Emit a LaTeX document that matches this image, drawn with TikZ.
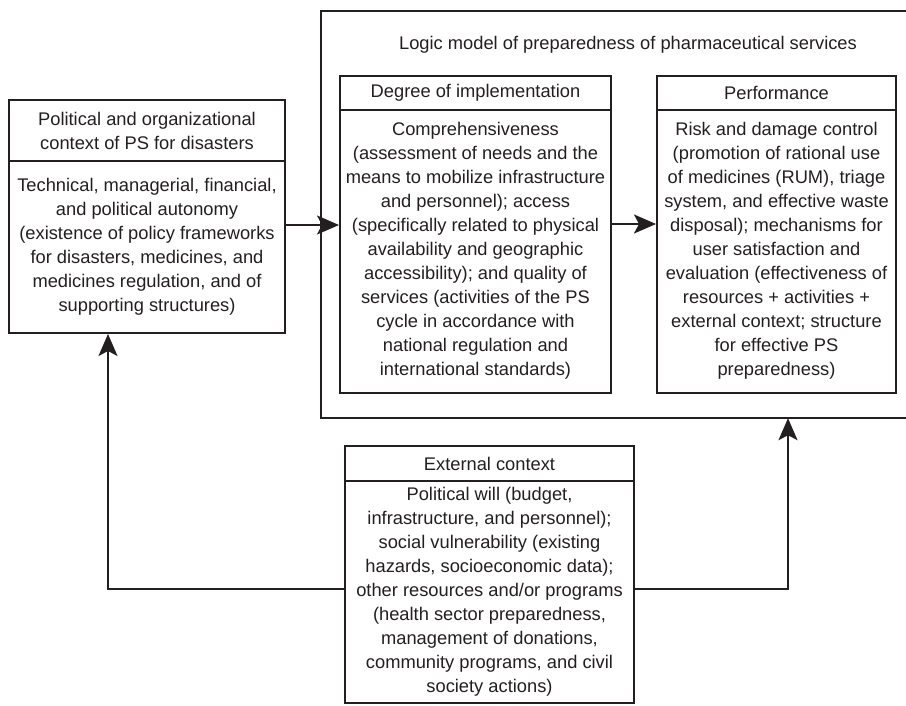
\documentclass[tikz,border=0pt]{standalone}
\usepackage{fontspec}
\setmainfont{Liberation Sans}
\usetikzlibrary{arrows.meta}
\definecolor{ink}{RGB}{35,31,32}
\tikzset{
  box/.style={draw=ink, line width=2pt, inner sep=0pt, align=center, text=ink,
    font=\fontsize{18.3}{24}\selectfont},
  arr/.style={draw=ink, line width=2pt,
    -{Stealth[length=22pt,width=19pt,inset=5pt]}},
  frame/.style={draw=ink, line width=2pt}
}
\begin{document}
\begin{tikzpicture}[x=1pt,y=-1pt]
\useasboundingbox (0,0) rectangle (906,705);
% outer frame (right side cut off by the page edge)
\node[inner sep=0pt, minimum width=585pt, minimum height=407pt] (outer) at (613.5,214.5) {};
\draw[frame] (outer.north east) -- (outer.north west) -- (outer.south west) -- (outer.south east);
\node[box, draw=none] (title) at (628,45) {Logic model of preparedness of pharmaceutical services};
% left box
\node[box, minimum width=276pt, minimum height=61pt] (lefthead) at (147,130.5)
  {Political and organizational\\context of PS for disasters};
\node[box, minimum width=276pt, minimum height=172pt] (leftbody) at (147,247)
  {Technical, managerial, financial,\\and political autonomy\\(existence of policy frameworks\\for disasters, medicines, and\\medicines regulation, and of\\supporting structures)};
% degree of implementation
\node[box, minimum width=271pt, minimum height=33.5pt] (deghead) at (475.5,92.75)
  {Degree of implementation};
\node[box, minimum width=271pt, minimum height=283.5pt] (degbody) at (475.5,251.25)
  {Comprehensiveness\\(assessment of needs and the\\means to mobilize infrastructure\\and personnel); access\\(specifically related to physical\\availability and geographic\\accessibility); and quality of\\services (activities of the PS\\cycle in accordance with\\national regulation and\\international standards)};
% performance
\node[box, minimum width=239pt, minimum height=33.5pt] (perfhead) at (776.5,92.75)
  {Performance};
\node[box, minimum width=239pt, minimum height=283.5pt] (perfbody) at (776.5,251.25)
  {Risk and damage control\\(promotion of rational use\\of medicines (RUM), triage\\system, and effective waste\\disposal); mechanisms for\\user satisfaction and\\evaluation (effectiveness of\\resources + activities +\\external context; structure\\for effective PS\\preparedness)};
% external context
\node[box, minimum width=289pt, minimum height=35pt] (exthead) at (489.5,463.5)
  {External context};
\node[box, minimum width=289pt, minimum height=222pt] (extbody) at (489.5,592)
  {Political will (budget,\\infrastructure, and personnel);\\social vulnerability (existing\\hazards, socioeconomic data);\\other resources and/or programs\\(health sector preparedness,\\management of donations,\\community programs, and civil\\society actions)};
% helper coordinates
\coordinate (ya) at (0,225);
\coordinate (yb) at (0,224);
\coordinate (yc) at (0,589);
\coordinate (xl) at (108,0);
\coordinate (xr) at (788,0);
% connectors
\draw[arr] (leftbody.east |- ya) -- (degbody.west |- ya);
\draw[arr] (degbody.east |- yb) -- (perfbody.west |- yb);
\draw[arr] (extbody.west |- yc) -| (leftbody.south -| xl);
\draw[arr] (extbody.east |- yc) -| (outer.south -| xr);
\end{tikzpicture}
\end{document}
